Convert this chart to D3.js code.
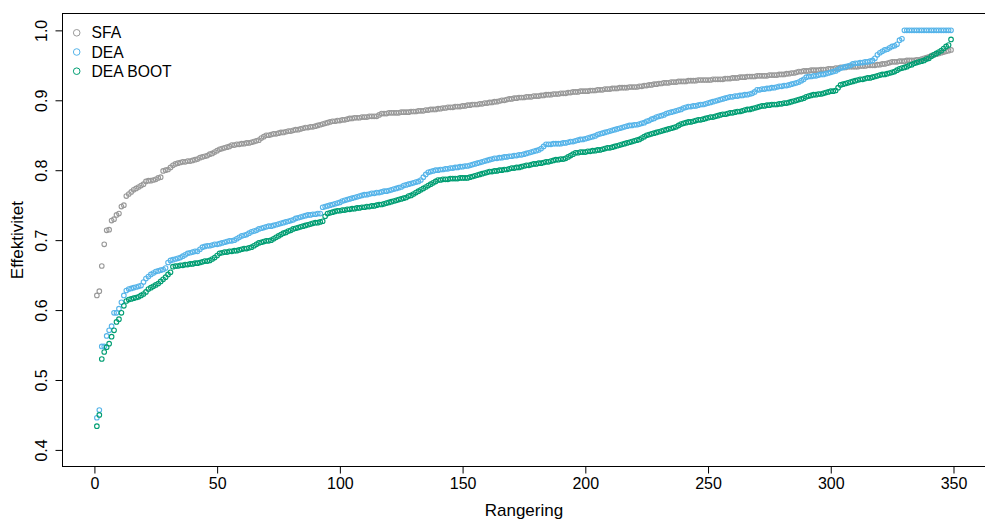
<!DOCTYPE html>
<html><head><meta charset="utf-8">
<script src="https://cdn.jsdelivr.net/npm/d3@7/dist/d3.min.js"></script>
<style>body{margin:0;background:#fff}svg{display:block;font-family:"Liberation Sans",Arial,Helvetica,sans-serif}</style>
</head><body><svg id="c" width="985" height="531"></svg>
<script>
const seriesNames = ["SFA", "DEA", "DEA BOOT"];
const seriesColors = ["#999999", "#56B4E9", "#009E73"];
const xTicks = [0, 50, 100, 150, 200, 250, 300, 350];
const yTicks = [0.4, 0.5, 0.6, 0.7, 0.8, 0.9, 1.0];

const sfa = [
0.621,0.627,0.663,0.694,0.714,0.715,0.728,0.730,0.736,0.738,
0.748,0.750,0.763,0.766,0.769,0.772,0.774,0.776,0.778,0.780,
0.784,0.785,0.785,0.786,0.787,0.789,0.790,0.799,0.800,0.801,
0.804,0.807,0.809,0.810,0.811,0.812,0.812,0.813,0.813,0.814,
0.815,0.816,0.818,0.819,0.820,0.821,0.823,0.824,0.826,0.828,
0.830,0.831,0.832,0.833,0.834,0.836,0.836,0.837,0.837,0.838,
0.838,0.839,0.839,0.840,0.841,0.842,0.843,0.846,0.848,0.850,
0.850,0.851,0.852,0.852,0.853,0.854,0.854,0.855,0.856,0.856,
0.857,0.858,0.858,0.859,0.860,0.861,0.861,0.862,0.862,0.863,
0.864,0.865,0.866,0.867,0.868,0.869,0.870,0.870,0.871,0.871,
0.872,0.872,0.873,0.874,0.874,0.875,0.875,0.875,0.876,0.876,
0.876,0.877,0.877,0.877,0.877,0.879,0.881,0.881,0.881,0.882,
0.882,0.882,0.882,0.882,0.883,0.883,0.883,0.883,0.884,0.884,
0.884,0.885,0.885,0.885,0.886,0.886,0.887,0.887,0.887,0.888,
0.888,0.889,0.889,0.890,0.890,0.890,0.891,0.891,0.891,0.892,
0.892,0.893,0.893,0.894,0.894,0.894,0.895,0.895,0.896,0.896,
0.897,0.897,0.898,0.898,0.899,0.900,0.900,0.901,0.902,0.902,
0.903,0.903,0.904,0.904,0.904,0.905,0.905,0.905,0.906,0.906,
0.906,0.907,0.907,0.908,0.908,0.908,0.909,0.909,0.909,0.910,
0.910,0.910,0.911,0.911,0.912,0.912,0.912,0.913,0.913,0.913,
0.913,0.914,0.914,0.914,0.915,0.915,0.915,0.916,0.916,0.916,
0.917,0.917,0.917,0.918,0.918,0.918,0.918,0.919,0.919,0.919,
0.919,0.920,0.920,0.921,0.921,0.922,0.922,0.923,0.923,0.924,
0.924,0.925,0.925,0.925,0.926,0.926,0.926,0.927,0.927,0.927,
0.927,0.928,0.928,0.928,0.928,0.929,0.929,0.929,0.929,0.929,
0.929,0.930,0.930,0.930,0.930,0.930,0.931,0.931,0.931,0.932,
0.932,0.932,0.933,0.933,0.933,0.934,0.934,0.934,0.934,0.935,
0.935,0.935,0.935,0.935,0.936,0.936,0.936,0.936,0.937,0.937,
0.937,0.938,0.938,0.939,0.939,0.940,0.941,0.941,0.942,0.942,
0.942,0.943,0.943,0.943,0.943,0.944,0.944,0.944,0.945,0.945,
0.945,0.946,0.946,0.947,0.947,0.947,0.948,0.948,0.948,0.948,
0.948,0.949,0.949,0.949,0.950,0.950,0.950,0.950,0.951,0.951,
0.952,0.952,0.953,0.954,0.955,0.955,0.955,0.956,0.956,0.956,
0.957,0.957,0.957,0.957,0.958,0.958,0.959,0.960,0.961,0.962,
0.964,0.965,0.966,0.967,0.968,0.969,0.970,0.971,0.972];

const dea = [
0.446,0.457,0.548,0.548,0.563,0.571,0.577,0.596,0.596,0.602,
0.611,0.621,0.628,0.630,0.631,0.632,0.633,0.634,0.635,0.640,
0.645,0.648,0.651,0.653,0.655,0.656,0.657,0.658,0.660,0.668,
0.671,0.672,0.673,0.674,0.675,0.677,0.679,0.681,0.682,0.683,
0.684,0.684,0.687,0.690,0.691,0.692,0.692,0.693,0.694,0.694,
0.695,0.696,0.697,0.698,0.699,0.699,0.700,0.702,0.704,0.706,
0.707,0.708,0.710,0.712,0.713,0.714,0.716,0.717,0.718,0.719,
0.720,0.720,0.721,0.722,0.723,0.724,0.725,0.726,0.727,0.728,
0.729,0.731,0.732,0.733,0.734,0.735,0.736,0.736,0.737,0.737,
0.738,0.738,0.747,0.748,0.749,0.750,0.751,0.752,0.753,0.754,
0.756,0.757,0.758,0.759,0.760,0.761,0.762,0.763,0.764,0.765,
0.765,0.766,0.767,0.767,0.768,0.768,0.769,0.770,0.770,0.771,
0.772,0.773,0.774,0.775,0.776,0.778,0.779,0.780,0.781,0.782,
0.783,0.784,0.786,0.790,0.794,0.797,0.798,0.799,0.800,0.800,
0.801,0.801,0.802,0.802,0.803,0.803,0.804,0.804,0.805,0.805,
0.806,0.806,0.807,0.808,0.809,0.810,0.811,0.812,0.813,0.814,
0.815,0.816,0.817,0.817,0.818,0.818,0.819,0.819,0.820,0.820,
0.821,0.821,0.822,0.822,0.823,0.824,0.825,0.826,0.827,0.828,
0.829,0.831,0.834,0.837,0.837,0.837,0.838,0.838,0.838,0.838,
0.839,0.839,0.840,0.841,0.841,0.842,0.843,0.844,0.844,0.845,
0.846,0.847,0.848,0.849,0.851,0.852,0.853,0.854,0.855,0.856,
0.857,0.858,0.859,0.860,0.861,0.862,0.863,0.864,0.864,0.865,
0.865,0.866,0.867,0.868,0.870,0.871,0.873,0.874,0.876,0.877,
0.878,0.879,0.881,0.882,0.883,0.884,0.885,0.886,0.887,0.889,
0.890,0.891,0.891,0.892,0.892,0.893,0.894,0.894,0.895,0.896,
0.897,0.898,0.899,0.900,0.901,0.902,0.903,0.904,0.905,0.905,
0.906,0.906,0.907,0.907,0.908,0.908,0.909,0.910,0.912,0.915,
0.915,0.916,0.916,0.917,0.917,0.918,0.918,0.919,0.920,0.920,
0.921,0.921,0.922,0.923,0.924,0.925,0.926,0.928,0.930,0.933,
0.934,0.934,0.935,0.935,0.936,0.937,0.937,0.938,0.939,0.940,
0.941,0.942,0.944,0.946,0.947,0.948,0.949,0.950,0.952,0.953,
0.953,0.954,0.954,0.955,0.955,0.956,0.957,0.960,0.965,0.968,
0.970,0.972,0.973,0.975,0.977,0.978,0.980,0.986,0.988,1.000,
1.000,1.000,1.000,1.000,1.000,1.000,1.000,1.000,1.000,1.000,
1.000,1.000,1.000,1.000,1.000,1.000,1.000,1.000,1.000];

const deaBoot = [
0.434,0.450,0.530,0.540,0.547,0.552,0.562,0.571,0.583,0.587,
0.596,0.606,0.613,0.615,0.616,0.617,0.618,0.619,0.621,0.623,
0.626,0.630,0.632,0.634,0.636,0.638,0.641,0.644,0.647,0.651,
0.654,0.662,0.663,0.663,0.664,0.664,0.665,0.665,0.666,0.666,
0.667,0.667,0.668,0.669,0.670,0.670,0.671,0.673,0.675,0.678,
0.681,0.682,0.683,0.683,0.684,0.684,0.685,0.685,0.686,0.687,
0.688,0.688,0.689,0.690,0.692,0.694,0.696,0.697,0.698,0.699,
0.699,0.700,0.702,0.704,0.706,0.708,0.710,0.711,0.713,0.714,
0.716,0.717,0.718,0.719,0.720,0.721,0.722,0.723,0.724,0.725,
0.725,0.726,0.727,0.734,0.738,0.739,0.740,0.741,0.742,0.742,
0.743,0.743,0.744,0.744,0.745,0.745,0.746,0.746,0.747,0.747,
0.748,0.748,0.749,0.749,0.750,0.751,0.751,0.752,0.753,0.754,
0.755,0.756,0.757,0.758,0.759,0.760,0.761,0.763,0.764,0.766,
0.768,0.770,0.772,0.774,0.776,0.778,0.780,0.782,0.784,0.786,
0.786,0.787,0.787,0.787,0.788,0.788,0.788,0.788,0.789,0.789,
0.789,0.789,0.790,0.791,0.792,0.793,0.794,0.795,0.796,0.797,
0.798,0.798,0.799,0.799,0.800,0.800,0.801,0.801,0.802,0.803,
0.803,0.804,0.804,0.805,0.806,0.807,0.807,0.808,0.809,0.809,
0.810,0.810,0.811,0.812,0.812,0.813,0.814,0.815,0.815,0.816,
0.816,0.817,0.819,0.821,0.823,0.825,0.825,0.826,0.826,0.826,
0.827,0.827,0.828,0.828,0.829,0.829,0.830,0.831,0.832,0.832,
0.833,0.834,0.835,0.836,0.837,0.838,0.839,0.840,0.841,0.842,
0.843,0.844,0.846,0.848,0.850,0.851,0.852,0.853,0.854,0.855,
0.856,0.857,0.858,0.859,0.860,0.861,0.862,0.864,0.866,0.867,
0.868,0.869,0.869,0.870,0.871,0.872,0.872,0.873,0.874,0.875,
0.876,0.876,0.877,0.878,0.879,0.880,0.880,0.881,0.882,0.882,
0.883,0.884,0.884,0.885,0.886,0.887,0.887,0.888,0.889,0.890,
0.891,0.892,0.892,0.893,0.893,0.894,0.894,0.894,0.895,0.895,
0.896,0.896,0.897,0.898,0.899,0.900,0.901,0.902,0.903,0.905,
0.906,0.907,0.908,0.908,0.909,0.909,0.910,0.911,0.912,0.913,
0.913,0.914,0.918,0.922,0.923,0.924,0.925,0.926,0.927,0.928,
0.929,0.930,0.930,0.931,0.932,0.932,0.933,0.934,0.935,0.936,
0.937,0.937,0.938,0.939,0.940,0.941,0.943,0.945,0.946,0.947,
0.948,0.950,0.951,0.953,0.954,0.955,0.956,0.957,0.959,0.960,
0.963,0.965,0.967,0.969,0.971,0.974,0.977,0.979,0.987];

const allSeries = [sfa, dea, deaBoot];

const svg = d3.select("#c");
const x = d3.scaleLinear().domain([-12.92, 362.92]).range([62.7, 985.2]);
const y = d3.scaleLinear().domain([0.376, 1.0244]).range([466.7, 13.3]);

// points
allSeries.forEach((vals, si) => {
  svg.append("g").selectAll("circle").data(vals).join("circle")
    .attr("cx", (d, i) => x(i + 1))
    .attr("cy", d => y(d))
    .attr("r", 2.3)
    .attr("fill", "none")
    .attr("stroke", seriesColors[si])
    .attr("stroke-width", 1.1);
});

// box
svg.append("rect")
  .attr("x", 62.5).attr("y", 13.5)
  .attr("width", 985.5 - 62.5).attr("height", 466.5 - 13.5)
  .attr("fill", "none").attr("stroke", "#000").attr("stroke-width", 1);

// x axis
const xAxis = d3.axisBottom(x).tickValues(xTicks).tickSize(7).tickPadding(4).tickFormat(d3.format("d"));
const gx = svg.append("g").attr("transform", "translate(0,466.5)").call(xAxis);
gx.select(".domain").attr("d", `M${x(0)},0H${x(350)}`);
gx.selectAll("text").attr("font-size", 16).attr("font-family", "Liberation Sans, Arial, sans-serif").attr("fill", "#000");
gx.selectAll("line").attr("stroke", "#000");

// y axis
const yAxis = d3.axisLeft(y).tickValues(yTicks).tickSize(7).tickFormat(d3.format(".1f"));
const gy = svg.append("g").attr("transform", "translate(62.5,0)").call(yAxis);
gy.select(".domain").attr("d", `M0,${y(0.4)}V${y(1.0)}`);
gy.selectAll("line").attr("stroke", "#000");
gy.selectAll("text")
  .attr("x", null).attr("dy", null)
  .attr("text-anchor", "middle")
  .attr("font-size", 16).attr("font-family", "Liberation Sans, Arial, sans-serif").attr("fill", "#000")
  .attr("transform", d => `translate(-16,0) rotate(-90)`);

// axis titles
svg.append("text").attr("x", x(175)).attr("y", 516).attr("text-anchor", "middle")
  .attr("font-size", 17).text("Rangering");
svg.append("text").attr("transform", `translate(23,${y(0.7)}) rotate(-90)`).attr("text-anchor", "middle")
  .attr("font-size", 17).text("Effektivitet");

// legend
const lg = svg.append("g");
seriesNames.forEach((name, i) => {
  const ly = 32.8 + i * 19.2;
  lg.append("circle").attr("cx", 76.7).attr("cy", ly).attr("r", 3.3)
    .attr("fill", "none").attr("stroke", seriesColors[i]).attr("stroke-width", 1);
  lg.append("text").attr("x", 91.5).attr("y", ly).attr("dy", "0.36em")
    .attr("font-size", 15.7).text(name);
});
</script></body></html>
